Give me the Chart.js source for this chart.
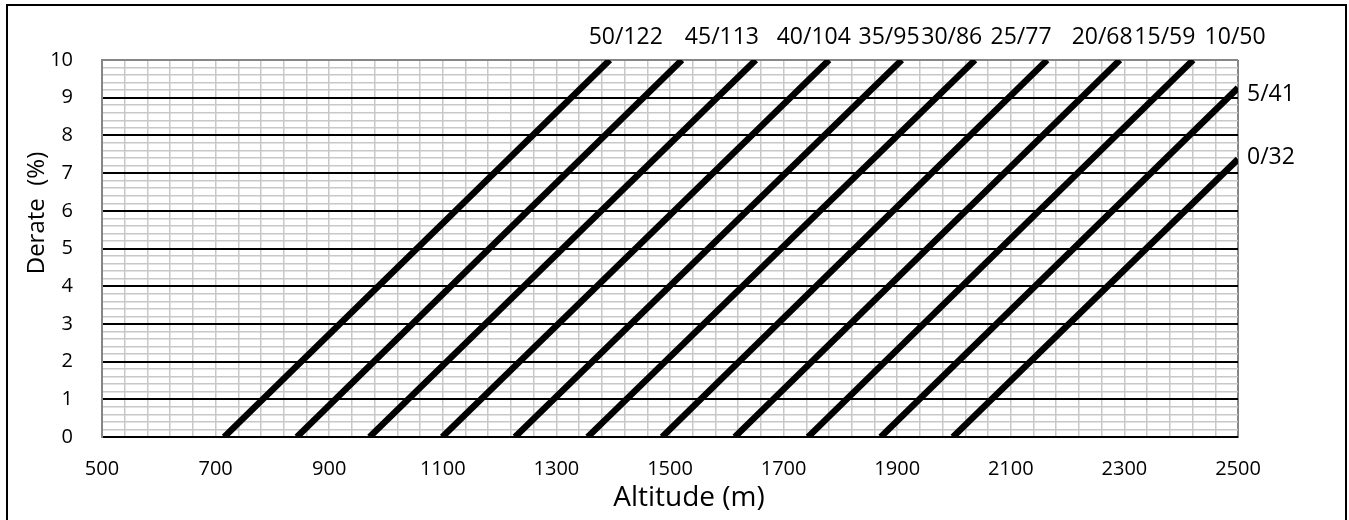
<!DOCTYPE html>
<html>
<head>
<meta charset="utf-8">
<script src="https://cdn.jsdelivr.net/npm/chart.js@4"></script>
<style>
  body { margin: 0; background: #fff; }
  #wrap { position: relative; width: 1349px; height: 520px; overflow: hidden; }
  #frame { position: absolute; left: 6px; top: 4px; width: 1341px; height: 600px;
           border: 2px solid #000; box-sizing: border-box; pointer-events: none; }
  canvas { position: absolute; left: 0; top: 0; }
</style>
</head>
<body>
<div id="wrap">
  <canvas id="derate" width="1349" height="520"></canvas>
  <div id="frame"></div>
</div>
<script>
// temperature curves (°C/°F), altitude where derate starts and where the line leaves the plot
const tempLabels = ['50/122', '45/113', '40/104', '35/95', '30/86', '25/77', '20/68', '15/59', '10/50', '5/41', '0/32'];
const startAlt = [715, 843, 971, 1099, 1227, 1355, 1486, 1614, 1743, 1871, 1998];
const endAlt = [1394, 1521, 1651, 1780, 1908, 2037, 2164, 2292, 2421, 2500, 2500];
const endDerate = [10, 10, 10, 10, 10, 10, 10, 10, 10, 9.26, 7.37];

// where the curve names sit next to the line ends (px)
const labelShift = [16, 40, 58, 60, 50, 46, 55, 45, 42, 7, -2];

const FONT = '"Open Sans", sans-serif';
const MINOR = '#c8c8c8';
const EDGE = '#868686';

(() => {
    const ctx = document.getElementById('derate').getContext('2d');

    const datasets = tempLabels.map((name, i) => ({
        label: name,
        data: [{x: startAlt[i], y: 0}, {x: endAlt[i], y: endDerate[i]}],
        borderColor: '#000',
        borderWidth: 6.5,
        borderCapStyle: 'butt',
        pointRadius: 0,
        showLine: true,
        clip: 0
    }));

    const isWhole = v => Math.abs(v - Math.round(v)) < 1e-6;

    const curveNames = {
        id: 'curveNames',
        afterDraw(chart) {
            const c = chart.ctx;
            const xs = chart.scales.x, ys = chart.scales.y;
            const area = chart.chartArea;
            c.save();
            c.fillStyle = '#000';
            c.font = '23px ' + FONT;
            tempLabels.forEach((name, i) => {
                if (endDerate[i] >= 10) {
                    c.textAlign = 'center';
                    c.textBaseline = 'middle';
                    c.fillText(name, xs.getPixelForValue(endAlt[i]) + labelShift[i], 37);
                } else {
                    c.textAlign = 'left';
                    c.textBaseline = 'middle';
                    c.fillText(name, area.right + 9, ys.getPixelForValue(endDerate[i]) + labelShift[i]);
                }
            });
            // axis titles
            c.font = '28px ' + FONT;
            c.textAlign = 'center';
            c.textBaseline = 'middle';
            c.fillText('Altitude (m)', (area.left + area.right) / 2 + 19, 498);
            c.translate(37, 213);
            c.rotate(-Math.PI / 2);
            c.font = '24px ' + FONT;
            c.fillText('Derate  (%)', 0, 0);
            c.restore();
        }
    };

    new Chart(ctx, {
        type: 'scatter',
        data: { datasets: datasets },
        options: {
            responsive: false,
            animation: false,
            layout: { padding: { left: 0, top: 60, right: 111, bottom: 0 } },
            plugins: {
                legend: { display: false },
                tooltip: { enabled: false }
            },
            scales: {
                x: {
                    type: 'linear',
                    min: 500,
                    max: 2500,
                    afterFit: s => { s.height = 83; },
                    border: { color: '#000', width: 2 },
                    grid: {
                        drawTicks: false,
                        color: c => (c.tick && c.tick.value === 2500 ? EDGE : MINOR),
                        lineWidth: c => (c.tick && c.tick.value === 2500 ? 2 : 1.5)
                    },
                    ticks: {
                        stepSize: 40,
                        autoSkip: false,
                        maxRotation: 0,
                        padding: 20,
                        color: '#000',
                        font: { family: FONT, size: 20 },
                        callback: v => ((v - 500) % 200 === 0 ? v : '')
                    }
                },
                y: {
                    min: 0,
                    max: 10,
                    afterFit: s => { s.width = 102; },
                    border: { color: EDGE, width: 2 },
                    grid: {
                        drawTicks: false,
                        color: c => {
                            const v = c.tick ? c.tick.value : 0;
                            if (isWhole(v) && Math.round(v) === 10) return EDGE;
                            return isWhole(v) ? '#000' : MINOR;
                        },
                        lineWidth: c => (c.tick && isWhole(c.tick.value) ? 2 : 1.5)
                    },
                    ticks: {
                        stepSize: 0.2,
                        autoSkip: false,
                        padding: 29,
                        color: '#000',
                        font: { family: FONT, size: 20 },
                        callback: v => (isWhole(v) ? Math.round(v) : '')
                    }
                }
            }
        },
        plugins: [curveNames]
    });
})();
</script>
</body>
</html>
